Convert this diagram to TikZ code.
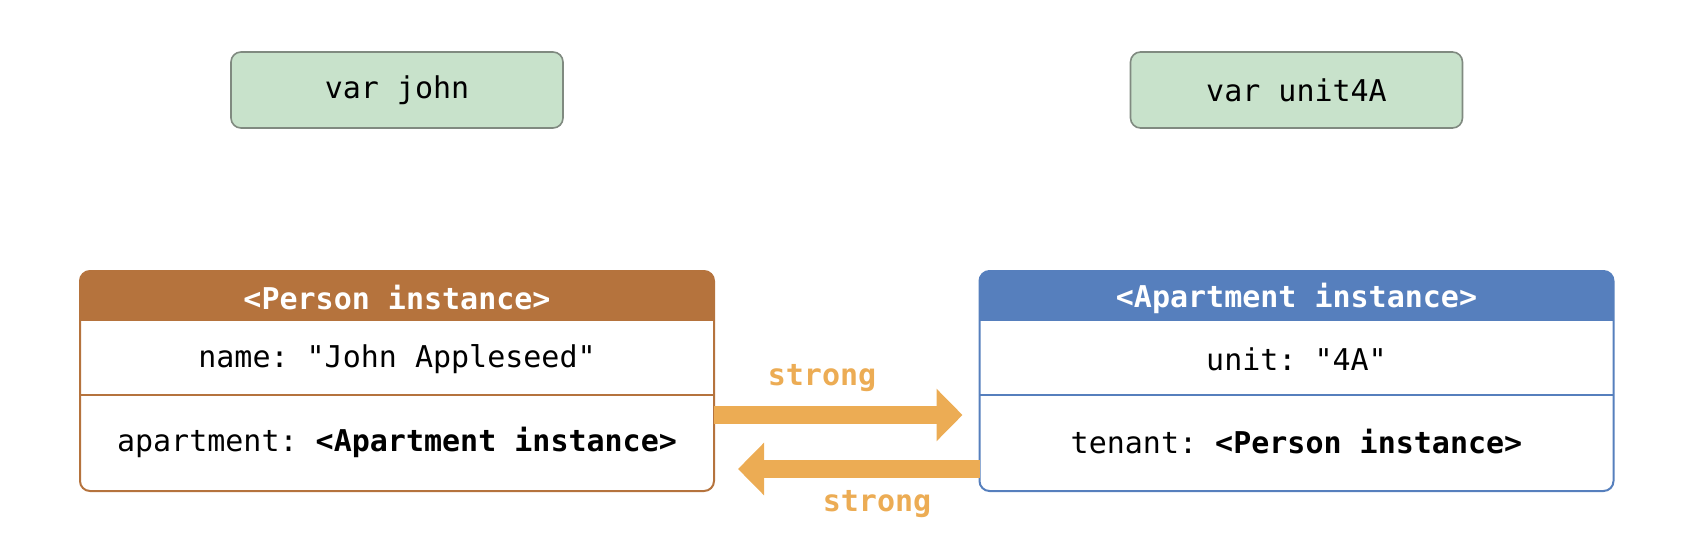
\documentclass[tikz,border=0pt]{standalone}
\usepackage{fontspec}
\setmonofont{DejaVu Sans Mono}
\usepackage{xcolor}
\usepackage{tikz}
\usetikzlibrary{arrows.meta,positioning,calc}

\definecolor{personc}{RGB}{181,115,61}
\definecolor{apartc}{RGB}{86,127,189}
\definecolor{strongc}{RGB}{236,172,84}
\definecolor{varfill}{RGB}{200,226,203}
\definecolor{varline}{RGB}{128,138,128}

\begin{document}
\begin{tikzpicture}[x=0.5pt,y=-0.5pt,
    every node/.style={font=\ttfamily\fontsize{15pt}{18pt}\selectfont},
    varbox/.style={draw=varline, fill=varfill, line width=0.8pt, rounded corners=5pt,
      minimum width=166pt, minimum height=38pt},
    objbox/.style={line width=1pt, rounded corners=5pt, minimum width=316pt, minimum height=109pt},
    strongarrow/.style={strongc, line width=9pt, -{Triangle[length=13pt,width=25.5pt]}},
    strongtxt/.style={text=strongc, font=\ttfamily\bfseries\fontsize{15pt}{18pt}\selectfont}]
  \useasboundingbox (0,0) rectangle (1692,556);

  \node[varbox] (john) at (397,90) {var john};
  \node[varbox] (unit) at (1296.5,90) {var unit4A};

  % the two instances
  \node[objbox] (person) at (397,381) {};
  \node[objbox] (apt) at (1296.5,381) {};
  \begin{scope}
    \clip[rounded corners=5pt] (person.north west) rectangle (person.south east);
    \fill[personc] (person.north west) rectangle ([yshift=-25pt]person.north east);
  \end{scope}
  \begin{scope}
    \clip[rounded corners=5pt] (apt.north west) rectangle (apt.south east);
    \fill[apartc] (apt.north west) rectangle ([yshift=-25pt]apt.north east);
  \end{scope}
  \draw[personc, line width=1pt] ([yshift=-62pt]person.north west) -- ([yshift=-62pt]person.north east);
  \draw[apartc, line width=1pt] ([yshift=-62pt]apt.north west) -- ([yshift=-62pt]apt.north east);
  \draw[personc, line width=1pt, rounded corners=5pt] (person.north west) rectangle (person.south east);
  \draw[apartc, line width=1pt, rounded corners=5pt] (apt.north west) rectangle (apt.south east);

  \node[text=white, font=\ttfamily\bfseries\fontsize{15pt}{18pt}\selectfont] (ptitle) at (397,298) {<Person instance>};
  \node (pname) at (397,359) {name: "John Appleseed"};
  \node (papt) at (397,442) {apartment: \textbf{<Apartment instance>}};
  \node[text=white, font=\ttfamily\bfseries\fontsize{15pt}{18pt}\selectfont] (atitle) at (1296.5,298) {<Apartment instance>};
  \node (aunit) at (1296.5,359) {unit: "4A"};
  \node (atenant) at (1296.5,442) {tenant: \textbf{<Person instance>}};

  % strong references
  \draw[strongarrow] ([yshift=-17pt]person.east) -- ([yshift=-17pt,xshift=-8.5pt]apt.west);
  \draw[strongarrow] ([yshift=-44pt]apt.west) -- ([yshift=-44pt,xshift=12pt]person.east);
  \node[strongtxt] (s1) at (822,378) {strong};
  \node[strongtxt] (s2) at (877,504) {strong};
\end{tikzpicture}
\end{document}
